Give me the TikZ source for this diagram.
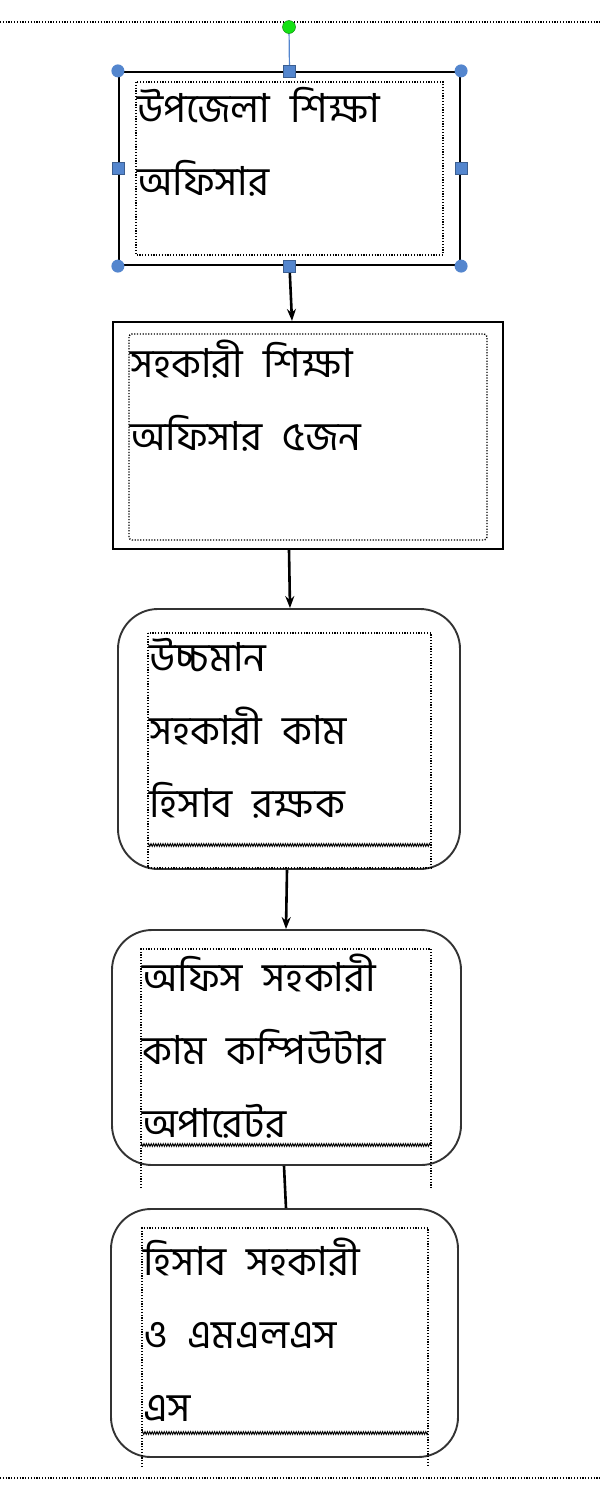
\documentclass[tikz,border=0pt]{standalone}
\usepackage{fontspec}
\newfontfamily\bnfont[Script=Bengali,WordSpace=2.2]{Hind Siliguri}
\usetikzlibrary{arrows.meta,decorations.pathmorphing}
\definecolor{handleblue}{RGB}{84,134,206}
\definecolor{handlegreen}{RGB}{20,225,20}

\begin{document}
\begin{tikzpicture}[x=1pt,y=-1pt,>={Stealth[length=12pt,width=9pt]},
  plainbox/.style={draw,line width=2.2pt,inner sep=0pt},
  roundbox/.style={plainbox,line width=1.9pt,draw=black!80,rounded corners=40pt},
  textframe/.style={draw,line width=1.4pt,dash pattern=on 1.2pt off 1.6pt},
  overflow/.style={draw,line width=0.9pt,decorate,decoration={zigzag,segment length=2.4pt,amplitude=1.4pt}},
  boxtext/.style={anchor=north west,inner sep=0pt,align=left,font=\bnfont\fontsize{40}{73}\selectfont},
  link/.style={line width=2.6pt},
  cornerhandle/.style={circle,fill=handleblue,inner sep=0pt,minimum size=13pt},
  sidehandle/.style={rectangle,fill=handleblue,draw=handleblue!70!black,line width=0.4pt,inner sep=0pt,minimum size=12pt}]
  \useasboundingbox (0,0) rectangle (600,1500);

  % page margins
  \draw[textframe] (0,22) -- (600,22);
  \draw[textframe] (0,1478) -- (600,1478);

  % boxes
  \node[plainbox,minimum width=341pt,minimum height=193pt] (uzo)  at (289.5,168.5) {};
  \node[plainbox,minimum width=390pt,minimum height=227pt] (sho)  at (308,435.5)   {};
  \node[roundbox,minimum width=342pt,minimum height=260pt] (uca)  at (289,739)     {};
  \node[roundbox,minimum width=349pt,minimum height=235pt] (osco) at (286.5,1047.5) {};
  \node[roundbox,minimum width=347pt,minimum height=248pt] (hsm)  at (284.5,1333)  {};

  % text frames
  \draw[textframe] (136,82) rectangle (443,255);
  \draw[textframe,rounded corners=3pt] (129,334) rectangle (487,540);
  \draw[textframe] (148,633) rectangle (431,868);
  \draw[overflow] (148,845) -- (431,845);
  \draw[textframe] (141,1188) -- (141,949) -- (431,949) -- (431,1188);
  \draw[overflow] (141,1145) -- (431,1145);
  \draw[textframe] (142,1467) -- (142,1228) -- (428,1228) -- (428,1467);
  \draw[overflow] (142,1433) -- (428,1433);

  % texts
  \node[boxtext] (uzotext)  at (137,87)   {উপজেলা শিক্ষা\\অফিসার};
  \node[boxtext] (shotext)  at (130,340)  {সহকারী শিক্ষা\\অফিসার ৫জন};
  \node[boxtext] (ucatext)  at (149,638)  {উচ্চমান\\সহকারী কাম\\হিসাব রক্ষক};
  \node[boxtext] (oscotext) at (142,954)  {অফিস সহকারী\\কাম কম্পিউটার\\অপারেটর};
  \node[boxtext] (hsmtext)  at (143,1238) {হিসাব সহকারী\\ও এমএলএস\\এস};

  % connectors
  \draw[link,->] (uzo.south) -- ([xshift=-16pt]sho.north);
  \draw[link,->] ([xshift=-19pt]sho.south) -- ([xshift=1pt]uca.north);
  \draw[link,->] ([xshift=-2pt]uca.south) -- ([xshift=-0.5pt]osco.north);
  \draw[link] ([xshift=-2.5pt]osco.south) -- ([xshift=1.5pt]hsm.north);

  % selection handles
  \coordinate (rot) at (289,27);
  \draw[handleblue,line width=1.2pt] (rot) -- (uzo.north);
  \node[circle,fill=handlegreen,draw=green!50!black,line width=0.4pt,inner sep=0pt,minimum size=13pt] at (rot) {};
  \foreach \a in {north west,north east,south west,south east}
    \node[cornerhandle] at (uzo.\a) {};
  \foreach \a in {north,south,west,east}
    \node[sidehandle] at (uzo.\a) {};
\end{tikzpicture}
\end{document}
